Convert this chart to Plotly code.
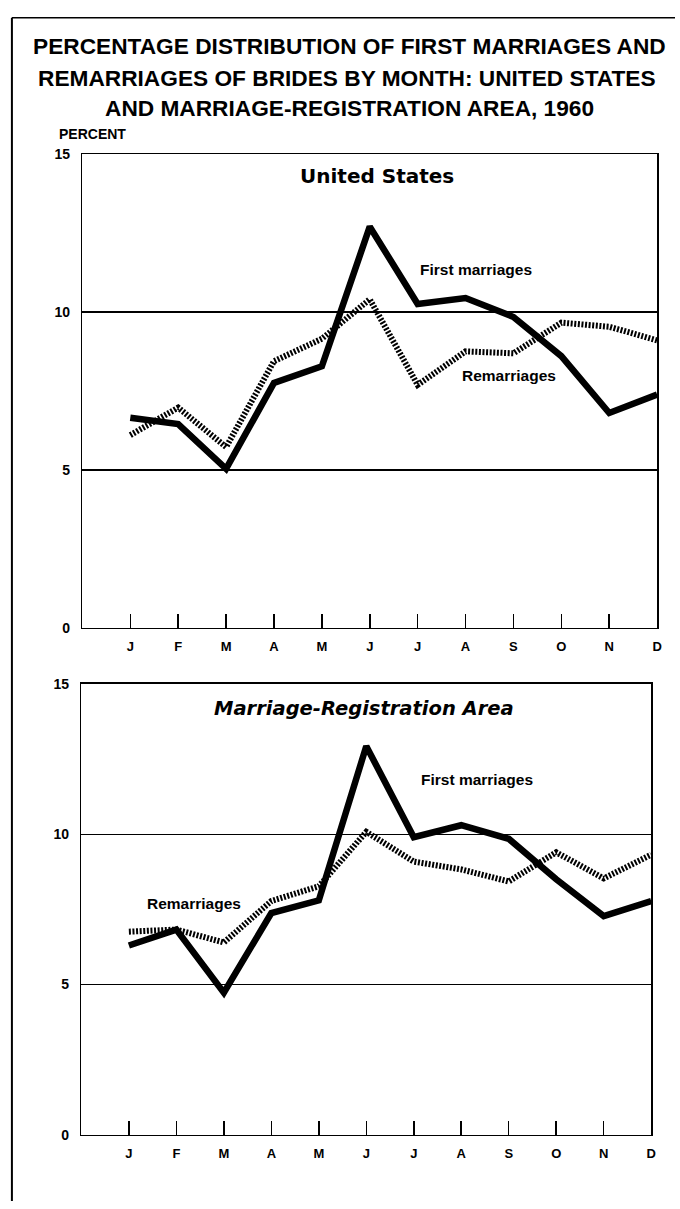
import plotly.graph_objects as go

months = ["J", "F", "M", "A", "M", "J", "J", "A", "S", "O", "N", "D"]
month_idx = list(range(12))

us_first = [6.65, 6.45, 5.03, 7.75, 8.28, 12.7, 10.25, 10.44, 9.84, 8.6, 6.8, 7.38]
us_remar = [6.1, 6.97, 5.72, 8.44, 9.15, 10.4, 7.69, 8.75, 8.69, 9.66, 9.53, 9.1]

mra_first = [6.3, 6.83, 4.73, 7.38, 7.8, 12.93, 9.9, 10.3, 9.85, 8.5, 7.28, 7.78]
mra_remar = [6.76, 6.83, 6.4, 7.78, 8.27, 10.08, 9.09, 8.83, 8.43, 9.4, 8.53, 9.32]

y_ticks = [0, 5, 10, 15]

W, H = 680, 1209
FONT = "Liberation Sans"
WIDE = "DejaVu Sans"

fig = go.Figure()

solid = dict(color="black", width=6.5)
dotted = dict(color="black", width=6, dash="2px,1.6px")

fig.add_trace(go.Scatter(x=month_idx, y=us_first, mode="lines", line=solid,
                         xaxis="x", yaxis="y", showlegend=False, hoverinfo="skip"))
fig.add_trace(go.Scatter(x=month_idx, y=us_remar, mode="lines", line=dotted,
                         xaxis="x", yaxis="y", showlegend=False, hoverinfo="skip"))
fig.add_trace(go.Scatter(x=month_idx, y=mra_first, mode="lines", line=solid,
                         xaxis="x2", yaxis="y2", showlegend=False, hoverinfo="skip"))
fig.add_trace(go.Scatter(x=month_idx, y=mra_remar, mode="lines", line=dotted,
                         xaxis="x2", yaxis="y2", showlegend=False, hoverinfo="skip"))

def xaxis(domain, anchor):
    return dict(domain=domain, anchor=anchor, range=[-1.0, 11],
                tickmode="array", tickvals=month_idx, ticktext=months,
                ticks="inside", ticklen=14, tickwidth=1.5, tickcolor="black",
                showline=True, linecolor="black", linewidth=1.5, mirror=True,
                showgrid=False, zeroline=False, ticklabelstandoff=6,
                tickfont=dict(family=FONT, size=13, color="black", weight="bold"))

def yaxis(domain, anchor):
    return dict(domain=domain, anchor=anchor, range=[0, 15],
                tickmode="array", tickvals=y_ticks, ticktext=[str(v) for v in y_ticks],
                ticks="", showline=True, linecolor="black", linewidth=1.5, mirror=True,
                showgrid=True, gridcolor="black", gridwidth=1.5, zeroline=False,
                ticklabelstandoff=8,
                tickfont=dict(family=FONT, size=14, color="black", weight="bold"))

fig.update_layout(
    width=W, height=H,
    margin=dict(l=0, r=0, t=0, b=0),
    paper_bgcolor="white", plot_bgcolor="white",
    hovermode=False,
    xaxis=xaxis([83 / W, 662 / W], "y"),
    yaxis=yaxis([1 - 628 / H, 1 - 148 / H], "x"),
    xaxis2=xaxis([82 / W, 656 / W], "y2"),
    yaxis2=yaxis([1 - 1142 / H, 1 - 685 / H], "x2"),
)

def ann(text, x, y, size, weight="bold", style="normal", family=FONT):
    fig.add_annotation(text=text, x=x / W, y=1 - y / H, xref="paper", yref="paper",
                       showarrow=False, xanchor="center", yanchor="middle",
                       font=dict(family=family, size=size, color="black",
                                 weight=weight, style=style))

# Title
ann("PERCENTAGE DISTRIBUTION OF FIRST MARRIAGES AND", 352, 39, 22.7)
ann("REMARRIAGES OF BRIDES BY MONTH: UNITED STATES", 350, 71, 22.7)
ann("AND MARRIAGE-REGISTRATION AREA, 1960", 352, 101, 22.7)

ann("PERCENT", 93, 128, 14)

# Panel titles
ann("United States", 380, 170, 20, family=WIDE)
ann("Marriage-Registration Area", 367, 710, 19.5, style="italic", family=WIDE)

# Series labels
ann("First marriages", 480, 265, 15.5)
ann("Remarriages", 513, 372, 15.5)
ann("First marriages", 481, 782, 15.5)
ann("Remarriages", 195, 908, 15.5)

# Page frame lines
fig.add_shape(type="line", xref="paper", yref="paper",
              x0=12 / W, x1=12 / W, y0=0, y1=1 - 10 / H,
              line=dict(color="black", width=2))
fig.add_shape(type="line", xref="paper", yref="paper",
              x0=12 / W, x1=1, y0=1 - 10 / H, y1=1 - 10 / H,
              line=dict(color="black", width=1.5))

fig.write_html("out.html",
               config={"displayModeBar": False, "staticPlot": True},
               post_script="document.body.style.margin='0px';document.body.style.overflow='hidden';")
